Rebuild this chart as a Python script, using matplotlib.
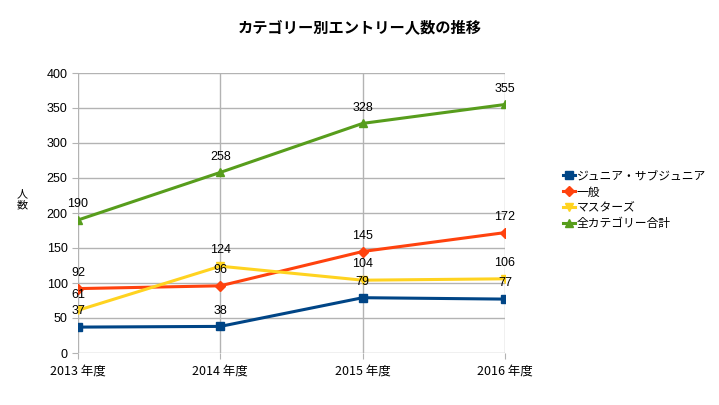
import matplotlib
matplotlib.use("Agg")
import matplotlib.pyplot as plt

plt.rcParams['font.family'] = ['Noto Sans CJK JP', 'DejaVu Sans']

years = ["2013 年度", "2014 年度", "2015 年度", "2016 年度"]
junior = [37, 38, 79, 77]
general = [92, 96, 145, 172]
masters = [61, 124, 104, 106]
total = [190, 258, 328, 355]

series = [
    ("ジュニア・サブジュニア", junior, "#004586", "s"),
    ("一般", general, "#ff420e", "D"),
    ("マスターズ", masters, "#ffd320", "v"),
    ("全カテゴリー合計", total, "#579d1c", "^"),
]

fig = plt.figure(figsize=(7.19, 4.05), dpi=100)
ax = fig.add_axes([78/719, 1-353/405, (505-78)/719, (353-73)/405])

x = list(range(len(years)))
for name, vals, col, mk in series:
    ax.plot(x, vals, color=col, lw=2.2, marker=mk, ms=6 if mk != "D" else 5, label=name)
    for xi, v in zip(x, vals):
        ax.annotate(str(v), (xi, v), xytext=(0, 7), textcoords="offset points",
                    ha="center", va="bottom", fontsize=9, family=['Liberation Sans', 'DejaVu Sans'])

ax.set_xlim(0, 3)
ax.set_ylim(0, 400)
ax.set_yticks(range(0, 401, 50))
ax.set_xticks(x)
ax.set_xticklabels(years)
ax.grid(True, color="#b3b3b3", lw=1)
ax.set_axisbelow(True)
for s in ax.spines.values():
    s.set_visible(False)
ax.tick_params(axis="both", length=4, color="#b3b3b3", labelsize=9)
ax.tick_params(axis="x", pad=4)
for lbl in ax.get_yticklabels():
    lbl.set_family(['Liberation Sans', 'DejaVu Sans'])

fig.text(22/719, 1-200/405, "人\n数", ha="center", va="center", fontsize=8, linespacing=1.1)
fig.text(0.5, 1-27/405, "カテゴリー別エントリー人数の推移", ha="center", va="center",
         fontsize=11, fontweight="bold")

leg = fig.legend(loc="center left", bbox_to_anchor=(558/719, 1-200/405), frameon=False,
                 fontsize=8.5, handlelength=1.0, handletextpad=0.2, labelspacing=0.25,
                 borderaxespad=0)

fig.savefig("out.png", dpi=100)
